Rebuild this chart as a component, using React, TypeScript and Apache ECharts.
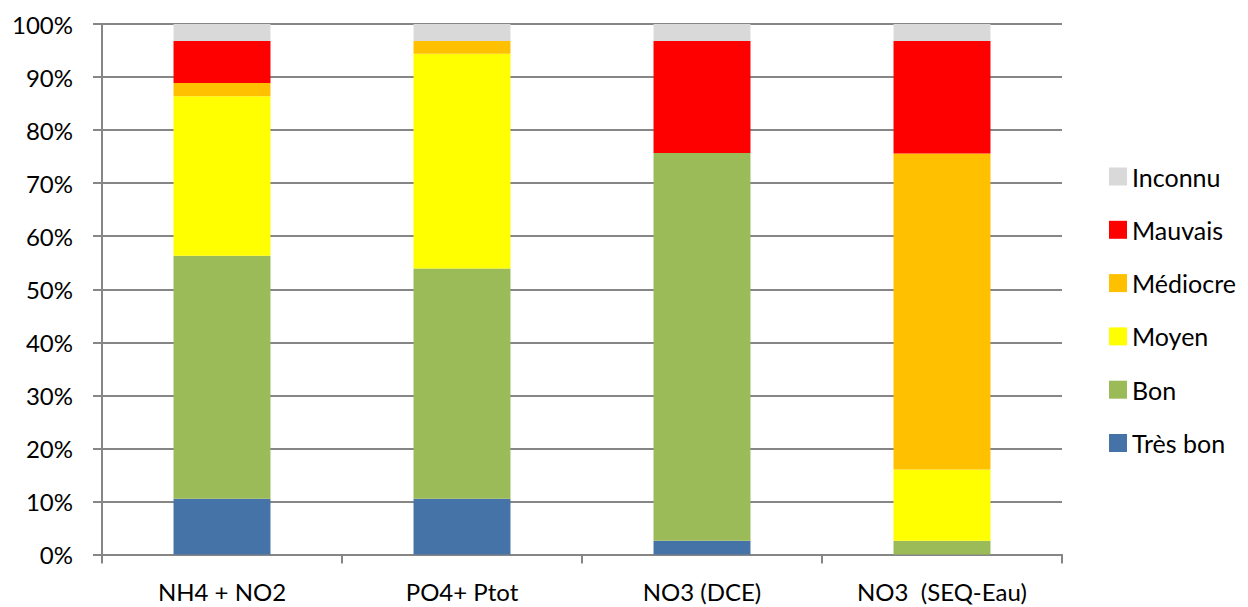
import React, { useEffect, useRef } from "react";
import * as echarts from "echarts";

const categories = ["NH4 + NO2", "PO4+ Ptot", "NO3 (DCE)", "NO3  (SEQ-Eau)"];
const seriesNames = ["Très bon", "Bon", "Moyen", "Médiocre", "Mauvais", "Inconnu"];
const tresBon = [10.5, 10.5, 2.6, 0];
const bon = [45.8, 43.4, 73.1, 2.6];
const moyen = [30.1, 40.5, 0, 13.4];
const mediocre = [2.5, 2.4, 0, 59.6];
const mauvais = [7.9, 0, 21.1, 21.2];
const inconnu = [3.2, 3.2, 3.2, 3.2];
const colors = ["#4572A7", "#9BBB59", "#FFFF00", "#FFC000", "#FF0000", "#D9D9D9"];
const values = [tresBon, bon, moyen, mediocre, mauvais, inconnu];

const FONT = "Lato, 'Liberation Sans', sans-serif";

export default function App() {
  const ref = useRef<HTMLDivElement>(null);
  useEffect(() => {
    if (!ref.current) return;
    const chart = echarts.init(ref.current, null, { renderer: "svg" });
    chart.setOption({
      animation: false,
      backgroundColor: "#ffffff",
      textStyle: { fontFamily: FONT },
      grid: { left: 102, right: 186, top: 24, bottom: 52.5, containLabel: false },
      legend: {
        orient: "vertical",
        left: 1109,
        top: 164,
        itemWidth: 18,
        itemHeight: 18,
        itemGap: 28.3,
        icon: "rect",
        padding: 0,
        data: seriesNames.slice().reverse(),
        textStyle: { fontFamily: FONT, fontSize: 25, color: "#000", padding: [0, 0, 0, 0] },
      },
      xAxis: {
        type: "category",
        data: categories,
        axisLine: { lineStyle: { color: "#868686", width: 2 } },
        axisTick: { show: true, length: 9, lineStyle: { color: "#868686", width: 2 } },
        axisLabel: { color: "#000", fontSize: 24, fontFamily: FONT, margin: 25 },
      },
      yAxis: {
        type: "value",
        min: 0,
        max: 100,
        interval: 10,
        axisLine: { show: true, lineStyle: { color: "#868686", width: 2 } },
        axisTick: { show: true, length: 9, lineStyle: { color: "#868686", width: 2 } },
        splitLine: { lineStyle: { color: "#868686", width: 2 } },
        axisLabel: { color: "#000", fontSize: 24, fontFamily: FONT, margin: 29, formatter: "{value}%" },
      },
      series: seriesNames.map((name, i) => ({
        name,
        type: "bar",
        stack: "total",
        barWidth: "40.4%",
        data: values[i],
        itemStyle: { color: colors[i] },
      })),
    });
    return () => chart.dispose();
  }, []);
  return (
    <div
      ref={ref}
      style={{ position: "fixed", left: 0, top: 0, width: 1248, height: 607 }}
    />
  );
}
